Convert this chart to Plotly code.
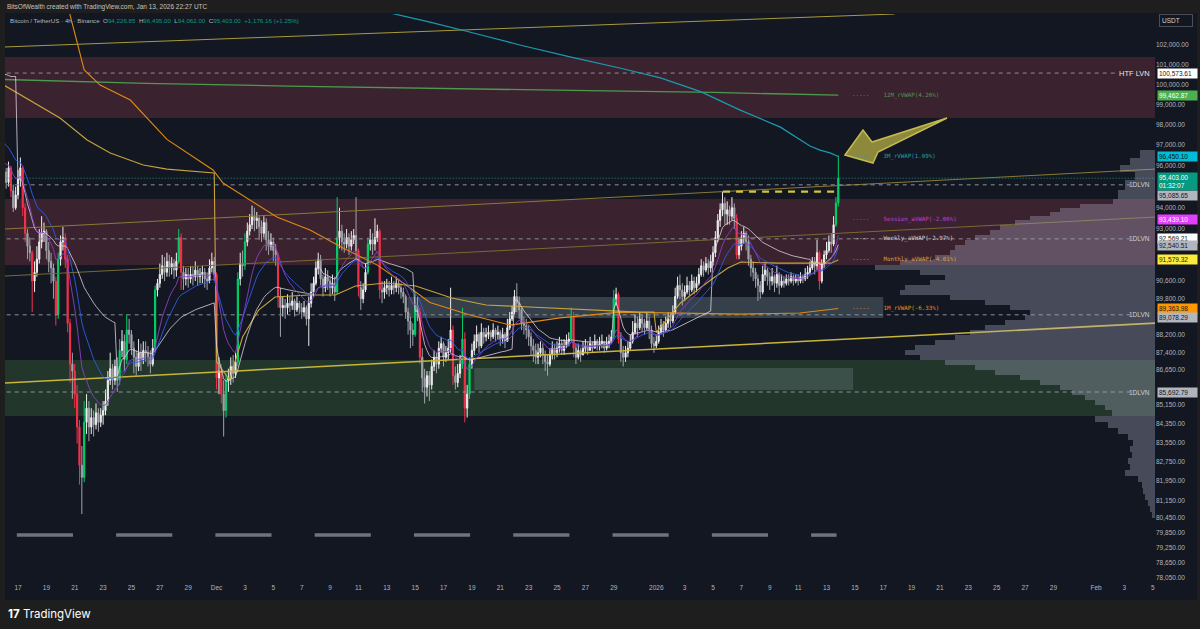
import numpy as np
import pandas as pd
import plotly.graph_objects as go

# ---------------- DATA (prices in thousands of USDT) ----------------
start_time = "2025-11-16 00:00"       # first 4h candle
first_open = 95.4
closes = [
 95.7, 95.2, 95.9, 94.8, 94.0, 94.6,   # Nov 16
 95.4, 95.9, 94.0, 92.8, 92.2, 91.9,   # Nov 17
 90.6, 91.0, 91.6, 92.4, 92.8, 92.9,   # Nov 18
 92.0, 91.5, 91.2, 90.6, 89.1, 91.6,   # Nov 19
 92.4, 92.6, 91.6, 88.7, 86.9, 86.6,   # Nov 20
 85.6, 84.2, 82.6, 82.1, 84.4, 85.0,   # Nov 21
 84.2, 84.6, 84.3, 84.8, 84.4, 84.7,   # Nov 22
 84.9, 85.3, 86.2, 86.7, 86.2, 86.8,   # Nov 23
 86.2, 87.5, 87.9, 87.1, 88.4, 88.2,   # Nov 24
 87.6, 87.2, 86.8, 87.4, 87.1, 87.5,   # Nov 25
 87.4, 87.2, 86.9, 87.6, 90.2, 90.5,   # Nov 26
 90.9, 91.3, 91.0, 91.5, 91.2, 91.4,   # Nov 27
 91.1, 91.5, 92.6, 91.0, 90.7, 90.9,   # Nov 28
 90.7, 90.9, 90.8, 91.1, 90.8, 90.9,   # Nov 29
 91.0, 90.7, 90.6, 91.2, 91.5, 90.9,   # Nov 30
 86.3, 86.6, 85.6, 84.9, 86.2, 86.3,   # Dec 1
 86.8, 86.5, 87.0, 90.7, 91.4, 91.3,   # Dec 2
 92.4, 92.9, 93.2, 93.6, 93.4, 93.5,   # Dec 3
 93.1, 92.8, 93.3, 92.5, 92.2, 92.4,   # Dec 4
 92.0, 91.8, 89.9, 89.4, 89.5, 89.4,   # Dec 5
 89.6, 89.5, 89.7, 89.3, 89.6, 89.4,   # Dec 6
 89.2, 89.4, 88.9, 89.6, 90.1, 90.5,   # Dec 7
 91.2, 91.6, 90.7, 90.3, 90.8, 90.6,   # Dec 8
 90.3, 90.5, 90.1, 92.6, 92.9, 92.4,   # Dec 9
 92.3, 92.6, 92.2, 92.5, 92.7, 92.0,   # Dec 10
 90.3, 89.8, 90.2, 91.0, 92.3, 92.5,   # Dec 11
 92.3, 92.6, 92.9, 90.2, 90.1, 90.3,   # Dec 12
 90.4, 90.2, 90.4, 90.3, 90.5, 90.3,   # Dec 13
 90.1, 89.9, 89.2, 88.8, 88.4, 88.2,   # Dec 14
 89.5, 89.2, 87.2, 86.3, 85.9, 86.4,   # Dec 15
 86.0, 86.8, 87.2, 86.9, 87.6, 87.8,   # Dec 16
 87.2, 87.4, 87.6, 88.4, 86.4, 86.1,   # Dec 17
 86.5, 86.9, 88.0, 85.0, 85.6, 86.9,   # Dec 18
 87.5, 87.9, 88.2, 87.7, 88.3, 88.1,   # Dec 19
 88.2, 88.3, 88.1, 88.4, 88.2, 88.3,   # Dec 20
 88.0, 88.2, 87.9, 88.5, 88.9, 89.2,   # Dec 21
 89.9, 89.6, 89.3, 88.7, 88.6, 88.4,   # Dec 22
 88.1, 87.7, 87.5, 87.2, 87.4, 87.6,   # Dec 23
 87.3, 87.0, 86.9, 87.3, 87.6, 87.4,   # Dec 24
 87.6, 87.8, 87.5, 87.7, 87.9, 88.0,   # Dec 25
 89.0, 87.6, 87.2, 87.5, 87.3, 87.6,   # Dec 26
 87.7, 87.5, 87.8, 87.6, 87.9, 87.7,   # Dec 27
 87.8, 87.9, 87.6, 87.8, 87.9, 88.1,   # Dec 28
 89.8, 90.0, 88.0, 87.4, 87.2, 87.4,   # Dec 29
 87.6, 87.9, 88.3, 88.7, 88.5, 88.9,   # Dec 30
 88.7, 88.5, 88.8, 88.4, 87.8, 87.7,   # Dec 31
 87.9, 88.3, 88.6, 88.4, 88.7, 88.9,   # Jan 1
 88.8, 89.2, 89.9, 90.4, 90.2, 89.9,   # Jan 2
 90.1, 90.4, 90.2, 90.6, 90.3, 90.5,   # Jan 3
 90.9, 91.3, 91.1, 91.4, 91.2, 91.5,   # Jan 4
 91.9, 92.6, 93.4, 93.9, 94.2, 93.7,   # Jan 5
 93.9, 93.6, 94.0, 93.5, 91.8, 92.2,   # Jan 6
 92.6, 92.8, 92.4, 91.6, 91.2, 91.0,   # Jan 7
 90.7, 90.4, 90.1, 90.9, 91.1, 90.8,   # Jan 8
 90.6, 90.8, 90.5, 90.9, 90.4, 90.6,   # Jan 9
 90.5, 90.7, 90.6, 90.8, 90.6, 90.7,   # Jan 10
 90.6, 90.8, 90.7, 90.9, 91.0, 91.2,   # Jan 11
 91.5, 91.3, 91.9, 90.6, 91.4, 91.8,   # Jan 12
 92.0, 92.4, 92.3, 93.2, 94.22685, 95.403,  # Jan 13
]
highs = [
 96.3, 95.9, 96.2, 96.0, 95.1, 95.0,
 95.8, 96.4, 96.0, 94.2, 93.0, 92.6,
 92.0, 91.5, 92.2, 93.0, 93.6, 93.3,
 93.0, 92.4, 91.9, 91.4, 90.8, 91.9,
 92.7, 93.1, 92.8, 91.8, 88.9, 87.4,
 86.9, 86.0, 84.5, 83.4, 85.3, 85.6,
 85.3, 85.0, 84.9, 85.2, 85.0, 85.0,
 85.3, 85.8, 86.6, 87.4, 86.9, 87.1,
 87.2, 88.0, 88.4, 88.2, 89.1, 88.9,
 88.4, 87.9, 87.5, 88.0, 87.8, 87.9,
 87.9, 87.7, 87.5, 88.0, 90.4, 90.7,
 91.4, 91.8, 91.7, 91.9, 91.8, 91.7,
 91.6, 91.9, 93.0, 92.8, 91.3, 91.2,
 91.2, 91.3, 91.3, 91.5, 91.3, 91.2,
 91.3, 91.2, 91.0, 91.6, 91.9, 91.7,
 91.0, 87.2, 86.9, 86.2, 86.5, 86.7,
 87.2, 87.3, 87.4, 91.0, 91.9, 92.0,
 92.8, 93.3, 93.7, 94.1, 94.0, 93.8,
 93.6, 93.4, 93.6, 93.5, 92.9, 92.8,
 92.6, 92.3, 91.9, 90.3, 89.9, 89.8,
 90.0, 89.9, 90.1, 89.8, 89.9, 89.7,
 89.6, 89.7, 89.5, 89.9, 90.5, 90.8,
 91.5, 91.9, 91.8, 90.9, 91.2, 91.1,
 90.8, 90.9, 90.8, 94.5, 94.0, 93.2,
 92.8, 93.0, 92.8, 92.9, 93.0, 94.5,
 92.1, 90.6, 90.5, 91.4, 92.6, 93.0,
 92.8, 93.5, 93.2, 93.0, 90.6, 90.6,
 90.7, 90.6, 90.8, 90.6, 90.8, 90.7,
 90.5, 90.3, 90.0, 89.4, 89.0, 88.7,
 90.1, 89.9, 89.4, 87.6, 86.7, 86.6,
 86.6, 87.1, 87.5, 87.4, 87.9, 88.1,
 87.9, 87.7, 88.0, 90.3, 88.6, 86.8,
 86.9, 87.3, 89.4, 88.3, 86.0, 87.2,
 87.8, 88.2, 88.6, 88.3, 88.7, 88.5,
 88.5, 88.6, 88.4, 88.7, 88.5, 88.6,
 88.4, 88.5, 88.3, 88.9, 89.2, 89.5,
 90.2, 90.5, 89.9, 89.4, 89.0, 88.9,
 88.6, 88.3, 88.0, 87.8, 87.8, 87.9,
 87.8, 87.5, 87.3, 87.6, 87.9, 87.8,
 87.9, 88.1, 88.0, 88.0, 88.2, 88.3,
 89.4, 89.2, 87.8, 87.8, 87.6, 87.9,
 88.0, 87.9, 88.1, 87.9, 88.2, 88.0,
 88.1, 88.2, 87.9, 88.1, 88.2, 88.4,
 90.2, 90.3, 90.1, 88.3, 87.7, 87.7,
 87.9, 88.2, 88.8, 89.1, 89.0, 89.2,
 89.1, 88.9, 89.2, 89.0, 88.6, 88.1,
 88.2, 88.6, 88.9, 88.8, 89.0, 89.2,
 89.2, 89.5, 90.3, 90.8, 90.9, 90.5,
 90.4, 90.8, 90.6, 90.9, 90.8, 90.8,
 91.2, 91.6, 91.5, 91.7, 91.6, 91.8,
 92.2, 92.9, 93.7, 94.2, 94.79, 94.5,
 94.3, 94.1, 94.5, 94.2, 93.7, 92.6,
 92.9, 93.1, 92.9, 92.7, 91.8, 91.5,
 91.2, 90.9, 90.6, 91.3, 91.4, 91.2,
 91.0, 91.2, 90.9, 91.3, 91.0, 90.9,
 90.8, 90.9, 90.9, 91.0, 90.9, 90.9,
 90.9, 91.0, 90.9, 91.2, 91.3, 91.5,
 91.7, 91.7, 92.5, 92.0, 91.6, 92.0,
 92.4, 92.7, 92.8, 93.6, 94.5, 96.495,
]
lows = [
 95.0, 94.9, 95.0, 94.5, 93.8, 93.9,
 94.4, 95.0, 93.6, 92.4, 91.6, 91.5,
 89.2, 90.1, 90.8, 91.4, 92.1, 92.4,
 91.6, 91.0, 90.5, 89.8, 88.6, 88.9,
 91.3, 92.0, 91.2, 88.3, 86.1, 85.4,
 85.0, 83.5, 81.8, 80.6, 81.9, 83.9,
 83.6, 83.9, 83.8, 84.1, 84.0, 84.2,
 84.3, 84.7, 85.1, 86.0, 85.8, 86.0,
 85.7, 86.0, 87.2, 86.6, 86.9, 87.8,
 87.3, 86.5, 86.4, 86.6, 86.6, 86.9,
 87.0, 86.8, 86.5, 86.8, 87.4, 89.9,
 90.3, 90.7, 90.6, 90.8, 90.8, 90.9,
 90.7, 90.8, 91.4, 90.2, 90.2, 90.4,
 90.3, 90.5, 90.4, 90.6, 90.4, 90.5,
 90.5, 90.3, 90.2, 90.5, 91.0, 90.6,
 85.8, 85.6, 85.2, 83.8, 84.6, 85.7,
 86.0, 86.1, 86.3, 86.8, 90.4, 90.8,
 91.1, 92.2, 92.7, 93.0, 92.9, 93.0,
 92.5, 92.4, 92.6, 92.0, 91.8, 92.0,
 91.5, 91.3, 89.4, 88.1, 89.0, 88.9,
 89.1, 89.2, 89.3, 89.0, 89.2, 89.1,
 88.9, 89.0, 88.6, 87.7, 89.4, 89.9,
 90.4, 90.9, 90.4, 89.9, 90.1, 90.2,
 89.9, 90.0, 89.7, 90.0, 92.1, 92.0,
 91.9, 92.1, 91.8, 92.0, 92.3, 91.6,
 89.9, 89.3, 89.6, 90.1, 90.9, 92.0,
 91.8, 92.0, 92.4, 89.8, 89.6, 89.8,
 90.0, 89.9, 90.0, 90.0, 90.1, 90.0,
 89.8, 89.6, 88.9, 88.2, 87.6, 87.7,
 88.1, 88.8, 86.9, 85.7, 85.2, 85.5,
 85.3, 85.8, 86.6, 86.5, 86.7, 87.4,
 86.8, 87.0, 87.1, 87.4, 86.0, 85.8,
 85.9, 86.3, 86.7, 84.4, 84.6, 85.4,
 86.7, 87.3, 87.6, 87.4, 87.6, 87.8,
 87.9, 88.0, 87.9, 88.0, 87.9, 88.0,
 87.7, 87.8, 87.6, 87.9, 88.4, 88.8,
 89.1, 89.2, 88.9, 88.4, 88.2, 88.0,
 87.7, 87.3, 87.0, 86.9, 86.9, 87.2,
 86.9, 86.6, 86.4, 86.8, 87.1, 87.1,
 87.2, 87.4, 87.3, 87.3, 87.6, 87.7,
 87.9, 87.2, 86.9, 87.1, 87.0, 87.3,
 87.4, 87.3, 87.5, 87.4, 87.6, 87.5,
 87.5, 87.6, 87.4, 87.5, 87.6, 87.8,
 88.0, 89.5, 87.8, 87.0, 86.8, 87.0,
 87.2, 87.5, 87.8, 88.2, 88.1, 88.4,
 88.3, 88.2, 88.4, 88.0, 87.6, 87.4,
 87.6, 87.8, 88.2, 88.1, 88.3, 88.5,
 88.5, 88.7, 89.1, 89.8, 89.8, 89.5,
 89.7, 90.0, 89.9, 90.1, 90.0, 90.1,
 90.4, 90.8, 90.8, 91.0, 90.9, 91.0,
 91.3, 91.7, 92.4, 93.1, 93.6, 93.2,
 93.2, 93.2, 93.4, 93.0, 91.6, 91.6,
 92.0, 92.3, 92.0, 91.3, 90.8, 90.6,
 90.3, 89.7, 89.8, 90.0, 90.6, 90.4,
 90.2, 90.4, 90.1, 90.3, 90.0, 90.3,
 90.3, 90.4, 90.4, 90.5, 90.4, 90.5,
 90.4, 90.5, 90.5, 90.6, 90.7, 90.9,
 91.1, 90.9, 91.1, 90.2, 90.5, 91.2,
 91.6, 91.9, 91.9, 92.2, 93.1, 94.062,
]

# indicator values read at the chart's left edge / off-chart history
ema_fast_seed = 96.3
ema_slow_seed = 97.3
prev_week_vwap = [100.5, 100.5, 100.45, 100.4, 100.4, 100.4]

# rolling VWAP lines
rv12_dates = ["2025-11-16 00:00", "2025-11-26", "2025-12-06", "2025-12-16", "2025-12-26", "2026-01-05", "2026-01-13 20:00"]
rv12_vals = [100.25, 100.05, 99.92, 99.80, 99.70, 99.60, 99.46287]
rv3_dates = ["2025-12-12 16:00", "2025-12-16 01:00", "2025-12-18 20:00", "2025-12-22 09:00", "2025-12-25 22:00",
             "2025-12-29 10:00", "2026-01-01 07:00", "2026-01-04 03:00", "2026-01-06 22:00", "2026-01-09 18:00",
             "2026-01-11 20:00", "2026-01-12 13:00", "2026-01-13 06:00", "2026-01-13 20:00"]
rv3_vals = [103.75, 103.18, 102.67, 102.00, 101.39, 100.83, 100.33, 99.64, 98.72, 97.88, 96.96, 96.76, 96.62, 96.4501]
rv1_dates = ["2025-11-20 14:00", "2025-11-21 05:00", "2025-11-21 16:00", "2025-11-22 19:00", "2025-11-24 22:00",
             "2025-11-27 12:00", "2025-11-29 03:00", "2025-11-30 18:00", "2025-12-01 11:00", "2025-12-03 09:00",
             "2025-12-05 06:00", "2025-12-07 14:00", "2025-12-09 22:00", "2025-12-12 08:00", "2025-12-14 04:00",
             "2025-12-16 01:00", "2025-12-18 21:00", "2025-12-21 17:00", "2025-12-25 05:00", "2025-12-29 11:00",
             "2026-01-02 16:00", "2026-01-06 22:00", "2026-01-11 03:00", "2026-01-13 20:00"]
rv1_vals = [103.8, 102.0, 100.73, 99.97, 99.22, 97.28, 96.52, 95.80, 95.17, 94.36, 93.56, 92.95, 92.12, 91.33,
            90.51, 89.63, 89.07, 88.62, 88.94, 89.20, 89.16, 89.11, 89.16, 89.36398]
monthly_dates = ["2025-11-16 00:00", "2025-11-17 20:00", "2025-11-19 23:00", "2025-11-21 21:00", "2025-11-23 12:00",
                 "2025-11-25 20:00", "2025-11-27 12:00", "2025-11-30 20:00",
                 "2025-12-01 00:00", "2025-12-01 22:00", "2025-12-02 20:00", "2025-12-03 23:00", "2025-12-05 03:00",
                 "2025-12-07 11:00", "2025-12-09 09:00", "2025-12-10 19:00", "2025-12-12 22:00", "2025-12-15 01:00",
                 "2025-12-15 23:00", "2025-12-17 14:00", "2025-12-20 00:00", "2025-12-24 16:00", "2025-12-30 19:00",
                 "2025-12-31 20:00",
                 "2026-01-01 00:00", "2026-01-02 17:00", "2026-01-04 20:00", "2026-01-06 01:00", "2026-01-06 23:00",
                 "2026-01-09 14:00", "2026-01-13 08:00", "2026-01-13 20:00"]
monthly_vals = [99.97, 99.22, 98.33, 97.25, 96.62, 96.04, 95.84, 95.65,
                87.0, 86.21, 88.09, 89.29, 89.88, 89.97, 89.97, 90.38, 90.51, 90.38, 90.19, 89.83, 89.52, 89.38,
                89.20, 89.20,
                88.3, 89.61, 90.65, 91.20, 91.47, 91.42, 91.42, 91.57932]

# trend lines: (start date, end date) and (start price, end price)
trend_dates = [("2025-11-16 02:00", "2026-02-05 04:00"), ("2025-11-16 02:00", "2026-02-05 04:00"),
               ("2025-11-16 02:00", "2026-02-05 04:00"), ("2025-11-16 02:00", "2026-01-17 19:00")]
trend_vals = [(93.00, 95.84), (90.83, 93.56), (86.08, 88.71), (101.90, 103.60)]
trend_colors = ["#8a7a35", "#7a6a32", "#c9b53a", "#a99a3a"]
trend_widths = [1, 1, 1.6, 1]

# zones (price ranges)
maroon_zones = [(98.33, 101.388), (91.335, 94.411)]
green_zone = (84.668, 87.081)
gray_box = ("2025-12-14 11:00", "2026-01-17 00:00", 88.937, 89.878)
lgreen_box = ("2025-12-19 04:00", "2026-01-14 21:00", 85.779, 86.732)

# key levels
htf_lvn = 100.57361
lvn_levels = [95.08565, 92.54051, 89.07829, 85.69279]
last_price = 95.403
swing_high = 94.76
swing_dates = ("2026-01-05 17:00", "2026-01-13 23:00")

# volume profile (bin edges bottom->top, bar lengths)
vp_edges = [80.441, 80.684, 80.928, 81.172, 81.416, 81.662, 81.909, 82.156, 82.404, 82.653, 82.902, 83.151,
            83.402, 83.654, 83.906, 84.159, 84.413, 84.668, 84.923, 85.136, 85.350, 85.565, 85.780, 85.995,
            86.211, 86.428, 86.645, 86.863, 87.081, 87.300, 87.519, 87.739, 87.960, 88.181, 88.402, 88.625,
            88.847, 89.071, 89.295, 89.519, 89.744, 89.969, 90.195, 90.422, 90.649, 90.877, 91.105, 91.335,
            91.564, 91.794, 92.025, 92.256, 92.489, 92.721, 92.954, 93.188, 93.422, 93.610, 93.797, 93.986,
            94.175, 94.411, 94.839, 95.316, 95.700, 96.037, 96.375, 96.763]
vp_vols = [3, 5, 7, 10, 12, 13, 17, 30, 25, 27, 23, 25, 22, 27, 37, 47, 60,
           43, 50, 60, 70, 83, 95, 115, 135, 160, 180, 210, 235, 250, 240, 220, 200, 185, 170, 150, 130, 125,
           145, 170, 205, 255, 250, 225, 210, 235, 280, 255, 220, 205, 200, 190, 180, 165, 155, 140,
           125, 105, 95, 75, 42, 37, 30, 20, 35, 25, 15]

# weekly session markers
sess_start = ["2025-11-16 22:00", "2025-11-23 22:00", "2025-11-30 22:00", "2025-12-07 22:00", "2025-12-14 22:00",
              "2025-12-21 22:00", "2025-12-28 22:00", "2026-01-04 22:00", "2026-01-11 22:00"]
sess_end = ["2025-11-20 21:00", "2025-11-27 21:00", "2025-12-04 21:00", "2025-12-11 21:00", "2025-12-18 21:00",
            "2025-12-25 21:00", "2026-01-01 21:00", "2026-01-08 21:00", "2026-01-13 17:00"]
sess_level = 79.754

# axis ticks
y_ticks = [102000, 101000, 100000, 99000, 98000, 97000, 96000, 94000, 93000, 90600, 89800, 88200, 87400,
           86650, 85150, 84350, 83550, 82750, 81950, 81150, 80450, 79850, 79250, 78650, 78050]
x_tick_dates = ["2025-11-17", "2025-11-19", "2025-11-21", "2025-11-23", "2025-11-25", "2025-11-27", "2025-11-29",
                "2025-12-01", "2025-12-03", "2025-12-05", "2025-12-07", "2025-12-09", "2025-12-11", "2025-12-13",
                "2025-12-15", "2025-12-17", "2025-12-19", "2025-12-21", "2025-12-23", "2025-12-25", "2025-12-27",
                "2025-12-29", "2026-01-01", "2026-01-03", "2026-01-05", "2026-01-07", "2026-01-09", "2026-01-11",
                "2026-01-13", "2026-01-15", "2026-01-17", "2026-01-19", "2026-01-21", "2026-01-23", "2026-01-25",
                "2026-01-27", "2026-01-29", "2026-02-01", "2026-02-03", "2026-02-05"]
x_tick_text = ["17", "19", "21", "23", "25", "27", "29", "Dec", "3", "5", "7", "9", "11", "13", "15", "17", "19",
               "21", "23", "25", "27", "29", "2026", "3", "5", "7", "9", "11", "13", "15", "17", "19", "21", "23",
               "25", "27", "29", "Feb", "3", "5"]

# value labels on the price scale: (price, bg colour, text colour, y shift)
axis_labels = [
    (100573.61, "#ffffff", "#131722", 0),
    (99462.87, "#4caf50", "#ffffff", 0),
    (96450.10, "#00bcd4", "#0b0e14", 0),
    (95085.65, "#b2b5be", "#131722", -11),
    (93439.10, "#e040fb", "#ffffff", 0),
    (92569.21, "#ffffff", "#131722", 0),
    (92540.51, "#b2b5be", "#131722", -7),
    (91579.32, "#ffeb3b", "#131722", 0),
    (89363.98, "#ff9800", "#131722", 0),
    (89078.29, "#b2b5be", "#131722", -3),
    (85692.79, "#b2b5be", "#131722", 0),
]
line_labels = [
    (99462.87, "12M_rVWAP(4.26%)", "#4e9a52"),
    (96450.10, "3M_rVWAP(1.09%)", "#1ba0b5"),
    (93439.10, "Session_aVWAP(-2.06%)", "#c040d4"),
    (92569.21, "Weekly_aVWAP(-2.97%)", "#d6d6d6"),
    (91579.32, "Monthly_aVWAP(-4.01%)", "#d8a23a"),
    (89363.98, "1M_rVWAP(-6.33%)", "#e8921c"),
]

# ---------------- BUILD ----------------
K = 1000.0
t = pd.date_range(start_time, periods=len(closes), freq="4h")
c = np.array(closes) * K
o = np.r_[first_open * K, c[:-1]]
h = np.maximum(np.array(highs) * K, np.maximum(o, c))
l = np.minimum(np.array(lows) * K, np.minimum(o, c))

X0, X1 = "2025-11-16 02:00", "2026-02-05 03:50"
XF0, XF1 = "2025-11-10", "2026-02-10"
BG = "#131722"

fig = go.Figure()
shapes = [
    # chart panel
    dict(type="rect", xref="paper", yref="paper", x0=0, x1=1.0365, y0=-0.0317, y1=1.0018,
         fillcolor=BG, line=dict(width=0), layer="below"),
]

def band(x0, x1, lo, hi, color):
    shapes.append(dict(type="rect", xref="x", yref="y", x0=x0, x1=x1, y0=lo * K, y1=hi * K,
                       fillcolor=color, line=dict(width=0), layer="below"))

for lo, hi in maroon_zones:
    band(XF0, XF1, lo, hi, "#3b222f")
band(XF0, XF1, green_zone[0], green_zone[1], "#22362c")
band(gray_box[0], gray_box[1], gray_box[2], gray_box[3], "#36404b")
band(lgreen_box[0], lgreen_box[1], lgreen_box[2], lgreen_box[3], "#3a5048")

def hline(level, x0, x1, color, dash, width=1):
    fig.add_trace(go.Scatter(x=[x0, x1], y=[level * K, level * K], mode="lines",
                             line=dict(color=color, dash=dash, width=width),
                             hoverinfo="skip", showlegend=False))

# candles
chg = c - o
grp = np.where(chg >= 1000, "bull", np.where(chg <= -1000, "bear", np.where(chg >= 0, "up", "down")))
for name, col in [("up", "#eeeeee"), ("down", "#a2a4ab"), ("bull", "#00d26a"), ("bear", "#f7314a")]:
    m = grp == name
    fig.add_trace(go.Candlestick(x=t[m], open=o[m], high=h[m], low=l[m], close=c[m],
                                 increasing=dict(line=dict(color=col, width=1), fillcolor=col),
                                 decreasing=dict(line=dict(color=col, width=1), fillcolor=col),
                                 whiskerwidth=0, hoverinfo="skip", showlegend=False))

# trend lines
for (d0, d1), (v0, v1), col, w in zip(trend_dates, trend_vals, trend_colors, trend_widths):
    fig.add_trace(go.Scatter(x=[d0, d1], y=[v0 * K, v1 * K], mode="lines", line=dict(color=col, width=w),
                             hoverinfo="skip", showlegend=False))

# key levels
hline(htf_lvn, XF0, "2026-02-02 15:00", "#8c8f99", "4px,4px")
for lv in lvn_levels:
    hline(lv, XF0, "2026-02-03 10:00", "#8c8f99", "4px,4px")
hline(last_price, XF0, XF1, "#1f8f86", "1px,2px")
hline(swing_high, swing_dates[0], swing_dates[1], "#d8c23c", "7px,6px", 2.2)

# session markers
for s0, s1 in zip(sess_start, sess_end):
    hline(sess_level, s0, s1, "#70737d", "solid", 3.5)

# derived indicators from the candles
def ema(x, n, seed):
    a = 2.0 / (n + 1)
    v, out = seed, []
    for xi in x:
        v = v + a * (xi - v)
        out.append(v)
    return np.array(out)

ema_fast = ema(c, 12, ema_fast_seed * K)
ema_slow = ema(c, 21, ema_slow_seed * K)

hlc3 = (h + l + c) / 3
week_id = ((t - pd.Timestamp("2025-11-17")) // pd.Timedelta("7D")).to_numpy()
weekly = np.empty(len(c))
acc, cnt, cur = 0.0, 0, None
pw = iter(prev_week_vwap)
for i in range(len(c)):
    if week_id[i] < 0:
        weekly[i] = next(pw) * K
        continue
    if week_id[i] != cur:
        cur, acc, cnt = week_id[i], 0.0, 0
    acc += hlc3[i]; cnt += 1
    weekly[i] = acc / cnt

def line(x, y, col, w=1.0):
    fig.add_trace(go.Scatter(x=x, y=y, mode="lines", line=dict(color=col, width=w),
                             hoverinfo="skip", showlegend=False))

line(rv12_dates, np.array(rv12_vals) * K, "#4b9a50", 1.3)
line(rv3_dates, np.array(rv3_vals) * K, "#1a9bb2", 1.2)
line(rv1_dates, np.array(rv1_vals) * K, "#e08a12", 1.1)
line(monthly_dates, np.array(monthly_vals) * K, "#c7a43c", 1.1)
line(t, weekly, "rgba(230,216,230,0.85)", 0.9)
line(t, ema_slow, "#2d5be6", 0.9)
line(t, ema_fast, "#8a3fc4", 0.9)

# volume profile (x2 axis measured from right edge)
vx, vy = [0], [vp_edges[0] * K]
for i, v in enumerate(vp_vols):
    vx += [v, v]
    vy += [vp_edges[i] * K, vp_edges[i + 1] * K]
vx += [0]; vy += [vp_edges[-1] * K]
fig.add_trace(go.Scatter(x=vx, y=vy, xaxis="x2", yaxis="y", mode="lines", fill="toself",
                         fillcolor="rgba(172,174,196,0.34)", line=dict(width=0),
                         hoverinfo="skip", showlegend=False))

# ---------------- LAYOUT ----------------
ann = []
FONT = "Liberation Sans"
for price, bg, fg, ys in axis_labels:
    ann.append(dict(x=1.0, xref="paper", y=np.log10(price), yref="y", xanchor="left", yanchor="middle",
                    xshift=2, yshift=ys, text=f"{price:,.2f}", showarrow=False, bgcolor=bg,
                    font=dict(color=fg, size=6.5, family=FONT), borderpad=1, width=37, align="left"))
ann.append(dict(x=1.0, xref="paper", y=np.log10(last_price * K), yref="y", xanchor="left", yanchor="middle",
                xshift=2, yshift=-3, text="95,403.00<br>01:32:07", showarrow=False, bgcolor="#089981",
                font=dict(color="#ffffff", size=6.5, family=FONT), borderpad=1, width=37, align="left"))
for price, txt, col in line_labels:
    ann.append(dict(x=0.7348, xref="paper", y=np.log10(price), yref="y", xanchor="left", yanchor="middle",
                    text="-----    " + txt, showarrow=False,
                    font=dict(color=col, size=5.8, family="DejaVu Sans Mono")))
ann.append(dict(x=0.9974, xref="paper", y=np.log10(htf_lvn * K), yref="y", xanchor="right", yanchor="middle",
                text="HTF LVN", showarrow=False, bgcolor="#3b222f",
                font=dict(color="#e6e6e6", size=7.5, family=FONT)))
for lv in lvn_levels:
    ann.append(dict(x=0.9974, xref="paper", y=np.log10(lv * K), yref="y", xanchor="right", yanchor="middle",
                    text="1DLVN", showarrow=False, font=dict(color="#d0d0d0", size=6.5, family=FONT)))
ann.append(dict(x=1.0037, xref="paper", y=0.9877, yref="paper", xanchor="left", yanchor="middle",
                text="USDT", showarrow=False, bgcolor=BG, bordercolor="#4a4e59", borderwidth=1, borderpad=2,
                width=28, align="left", font=dict(color="#d1d4dc", size=6.5, family=FONT)))
ann.append(dict(x=0.0, xref="paper", y=1.0123, yref="paper", xanchor="left", yanchor="middle",
                text="BitsOfWealth created with TradingView.com, Jan 13, 2026 22:27 UTC", showarrow=False,
                font=dict(color="#c4c4c4", size=6.5, family=FONT)))
teal = "#089981"
hdr = ("Bitcoin / TetherUS · 4h · Binance  "
       f"O<span style='color:{teal}'>94,226.85</span>  H<span style='color:{teal}'>96,495.00</span>  "
       f"L<span style='color:{teal}'>94,062.00</span>  C<span style='color:{teal}'>95,403.00</span>  "
       f"<span style='color:{teal}'>+1,176.16 (+1.25%)</span>")
ann.append(dict(x=0.0026, xref="paper", y=0.9894, yref="paper", xanchor="left", yanchor="middle",
                text=hdr, showarrow=False, font=dict(color="#b2b5be", size=6.2, family=FONT)))
ann.append(dict(x=0.001, xref="paper", y=-0.0563, yref="paper", xanchor="left", yanchor="middle",
                text="<b>17</b> TradingView", showarrow=False,
                font=dict(color="#ffffff", size=11.5, family="Inter")))

shapes.append(
    # highlight arrow
    dict(type="path", xref="paper", yref="paper",
         path="M 0.73043 0.75176 L 0.74609 0.79577 L 0.75391 0.77465 L 0.81913 0.81690 "
              "L 0.75913 0.75704 L 0.75478 0.73768 Z",
         fillcolor="#8c893c", line=dict(color="#c4ba50", width=1.5), layer="above"))

fig.update_layout(
    width=1200, height=629, autosize=False,
    margin=dict(l=5, r=45, t=14, b=47),
    paper_bgcolor="#1e1e1e", plot_bgcolor=BG,
    showlegend=False, hovermode=False, boxmode="overlay",
    xaxis=dict(type="date", range=[X0, X1], tickvals=x_tick_dates, ticktext=x_tick_text,
               showgrid=False, zeroline=False, showline=False, ticks="",
               tickfont=dict(color="#b2b5be", size=6.5, family=FONT), rangeslider=dict(visible=False),
               fixedrange=True),
    xaxis2=dict(overlaying="x", range=[1150, 0], visible=False, anchor="y", fixedrange=True),
    yaxis=dict(type="log", range=[np.log10(77897), np.log10(103600)], side="right",
               tickvals=y_ticks, ticktext=[f"{v:,.2f}" for v in y_ticks],
               showgrid=False, zeroline=False, showline=False, ticks="",
               tickfont=dict(color="#b2b5be", size=6.5, family=FONT), fixedrange=True),
    annotations=ann, shapes=shapes,
)

fig.write_html("out.html")
